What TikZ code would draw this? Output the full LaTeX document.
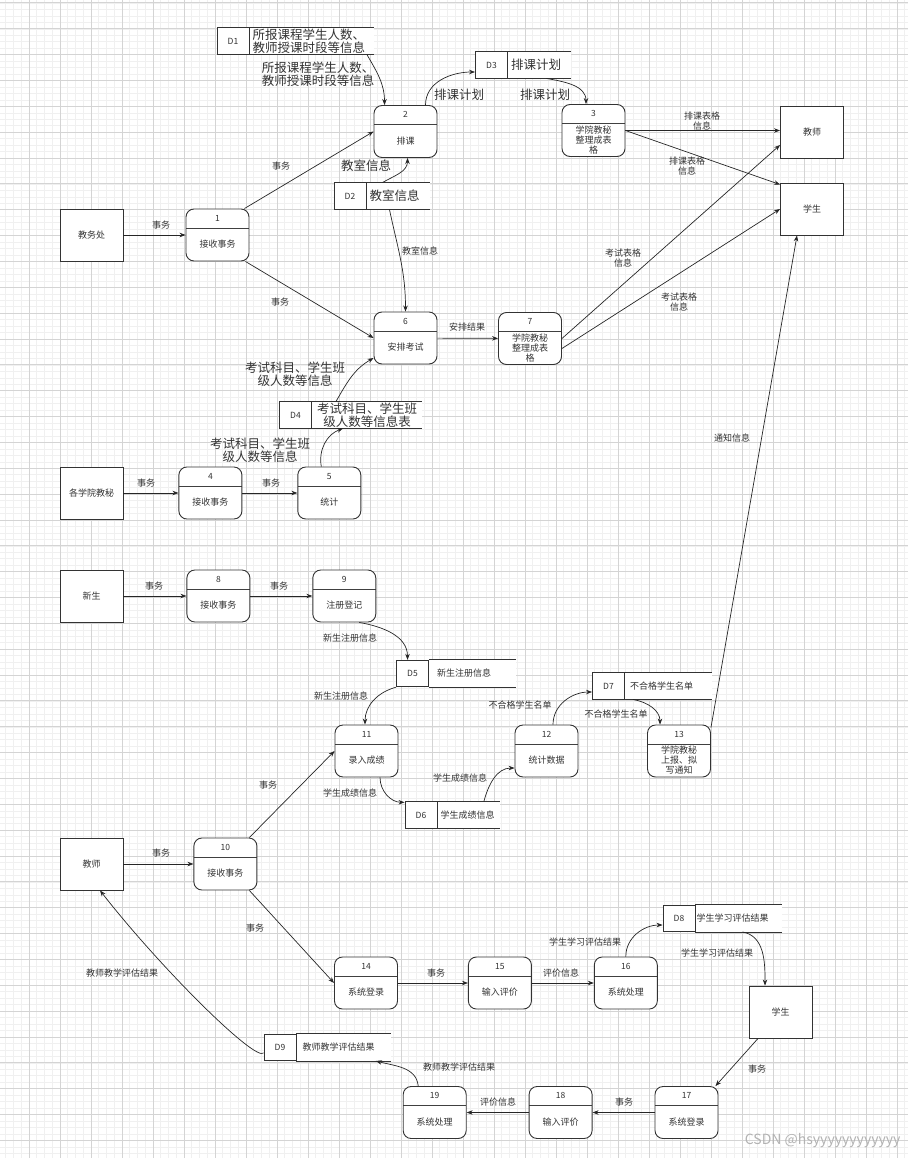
\documentclass[tikz,border=0pt]{standalone}
\usepackage{fontspec}
\setmainfont{Noto Sans CJK SC}
\usepackage{tikz}
\usetikzlibrary{arrows.meta,positioning}

\begin{document}
\begin{tikzpicture}[x=1pt, y=1pt,
    ent/.style={rectangle, draw=black!80, line width=0.9pt, fill=white,
                minimum width=63pt, minimum height=52pt,
                align=center, font=\fontsize{9}{10}\selectfont, text=black!80},
    proc/.style={rectangle, rounded corners=8pt,
                 draw=black!80, line width=0.9pt, fill=white,
                 minimum width=63pt, minimum height=52pt,
                 path picture={\draw[line width=0.8pt, black!75]
                   ([yshift=-19pt]path picture bounding box.north west) --
                   ([yshift=-19pt]path picture bounding box.north east);}},
    pnum/.style={anchor=center, yshift=-9.5pt, inner sep=0pt,
                 font=\fontsize{8.5}{10}\selectfont, text=black!80},
    ptxt/.style={yshift=-9.5pt, inner sep=0pt, align=center,
                 font=\fontsize{9}{10}\selectfont, text=black!80},
    dsid/.style={rectangle, draw=black!80, line width=0.9pt, fill=white,
                 minimum width=32pt, minimum height=26.5pt, inner sep=0pt,
                 font=\fontsize{8.5}{10}\selectfont, text=black!80},
    dsbody/.style={rectangle, fill=white, anchor=west,
                   minimum height=26.5pt, inner xsep=3pt, inner ysep=0pt,
                   align=left, font=\fontsize{9}{10}\selectfont, text=black!80},
    dsbig/.style={font=\fontsize{12.5}{13.5}\selectfont},
    dsedge/.style={draw=black!80, line width=0.9pt},
    lbl/.style={align=center, inner sep=1pt,
                font=\fontsize{9}{10}\selectfont, text=black!80},
    lblbig/.style={lbl, font=\fontsize{12.5}{13.5}\selectfont},
    arr/.style={-{Stealth[length=6pt,width=4.5pt]}, line width=0.7pt, draw=black!85},
    gridmajor/.style={draw=black!17, line width=1pt},
    gridminor/.style={draw=black!6, line width=0.6pt},
]

\useasboundingbox (0,0) rectangle (907,-1158);

%% ─── Background grid ───────────────────────────────────────────────────────
\begin{scope}[shift={(-2,-3)}]
  \draw[gridminor] (2,3) grid[xstep=7.75pt, ystep=6.4625pt] (912,-1158);
  \draw[gridmajor] (2,3) grid[xstep=31pt, ystep=25.85pt] (912,-1158);
\end{scope}

%% ─── External entities ─────────────────────────────────────────────────────
\node[ent] (e_jwc)  at (91.5,-235)   {教务处};
\node[ent] (e_xyjm) at (91.5,-493)   {各学院教秘};
\node[ent] (e_xs)   at (91.5,-596)   {新生};
\node[ent] (e_jsL)  at (91.5,-864)   {教师};
\node[ent] (e_jsR)  at (812,-132)    {教师};
\node[ent] (e_xsR)  at (812,-209)    {学生};
\node[ent] (e_xsB)  at (780.5,-1012) {学生};

%% ─── Processes: course and exam scheduling ────────────────────────────────
\node[proc, label={[pnum, name=p1n]north:1}, label={[ptxt, name=p1t]center:接收事务}]
    (p1) at (217.5,-235) {};
\node[proc, label={[pnum, name=p2n]north:2}, label={[ptxt, name=p2t]center:排课}]
    (p2) at (405.5,-131.5) {};
\node[proc, label={[pnum, name=p3n]north:3},
      label={[ptxt, name=p3t]center:学院教秘\\整理成表\\格}]
    (p3) at (593.5,-130.5) {};
\node[proc, label={[pnum, name=p6n]north:6}, label={[ptxt, name=p6t]center:安排考试}]
    (p6) at (405.5,-338) {};
\node[proc, label={[pnum, name=p7n]north:7},
      label={[ptxt, name=p7t]center:学院教秘\\整理成表\\格}]
    (p7) at (530,-338.5) {};
\node[proc, right=55pt of e_xyjm,
      label={[pnum, name=p4n]north:4}, label={[ptxt, name=p4t]center:接收事务}] (p4) {};
\node[proc, right=55pt of p4,
      label={[pnum, name=p5n]north:5}, label={[ptxt, name=p5t]center:统计}] (p5) {};

%% ─── Processes: registration and grades ───────────────────────────────────
\node[proc, right=63pt of e_xs,
      label={[pnum, name=p8n]north:8}, label={[ptxt, name=p8t]center:接收事务}] (p8) {};
\node[proc, right=62pt of p8,
      label={[pnum, name=p9n]north:9}, label={[ptxt, name=p9t]center:注册登记}] (p9) {};
\node[proc, label={[pnum, name=p11n]north:11}, label={[ptxt, name=p11t]center:录入成绩}]
    (p11) at (366.5,-751) {};
\node[proc, label={[pnum, name=p12n]north:12}, label={[ptxt, name=p12t]center:统计数据}]
    (p12) at (546.5,-751) {};
\node[proc, label={[pnum, name=p13n]north:13},
      label={[ptxt, name=p13t]center:学院教秘\\上报、拟\\写通知}]
    (p13) at (679,-751) {};

%% ─── Processes: evaluation ────────────────────────────────────────────────
\node[proc, right=70pt of e_jsL,
      label={[pnum, name=p10n]north:10}, label={[ptxt, name=p10t]center:接收事务}] (p10) {};
\node[proc, label={[pnum, name=p14n]north:14}, label={[ptxt, name=p14t]center:系统登录}]
    (p14) at (366,-983) {};
\node[proc, right=70pt of p14,
      label={[pnum, name=p15n]north:15}, label={[ptxt, name=p15t]center:输入评价}] (p15) {};
\node[proc, right=62pt of p15,
      label={[pnum, name=p16n]north:16}, label={[ptxt, name=p16t]center:系统处理}] (p16) {};
\node[proc, label={[pnum, name=p17n]north:17}, label={[ptxt, name=p17t]center:系统登录}]
    (p17) at (686.5,-1112.5) {};
\node[proc, left=62pt of p17,
      label={[pnum, name=p18n]north:18}, label={[ptxt, name=p18t]center:输入评价}] (p18) {};
\node[proc, left=62pt of p18,
      label={[pnum, name=p19n]north:19}, label={[ptxt, name=p19t]center:系统处理}] (p19) {};

%% ─── Data stores ───────────────────────────────────────────────────────────
\node[dsid] (d1) at (233,-41) {D1};
\node[dsbody, dsbig, text width=118pt] (d1t) at (d1.east) {所报课程学生人数、\\教师授课时段等信息};
\node[dsid] (d2) at (350,-196) {D2};
\node[dsbody, dsbig, text width=57pt] (d2t) at (d2.east) {教室信息};
\node[dsid] (d3) at (491.5,-65) {D3};
\node[dsbody, dsbig, text width=57pt] (d3t) at (d3.east) {排课计划};
\node[dsid] (d4) at (295.5,-415) {D4};
\node[dsbody, dsbig, text width=104pt, align=center] (d4t) at (d4.east) {考试科目、学生班\\级人数等信息表};
\node[dsid] (d5) at (412.5,-673.5) {D5};
\node[dsbody, text width=71pt, inner xsep=8pt] (d5t) at (d5.east) {新生注册信息};
\node[dsid] (d6) at (421,-815) {D6};
\node[dsbody, text width=56pt] (d6t) at (d6.east) {学生成绩信息};
\node[dsid] (d7) at (608.5,-686) {D7};
\node[dsbody, text width=77pt, inner xsep=5pt] (d7t) at (d7.east) {不合格学生名单};
\node[dsid] (d8) at (679,-918.5) {D8};
\node[dsbody, text width=84pt, inner xsep=1pt] (d8t) at (d8.east) {学生学习评估结果};
\node[dsid] (d9) at (280,-1047.5) {D9};
\node[dsbody, text width=82pt, inner xsep=6pt] (d9t) at (d9.east) {教师教学评估结果};

%% open right side: only top and bottom edges
\draw[dsedge] (d1.north east) -- (d1.north east -| d1t.east) (d1.south east) -- (d1.south east -| d1t.east);
\draw[dsedge] (d2.north east) -- (d2.north east -| d2t.east) (d2.south east) -- (d2.south east -| d2t.east);
\draw[dsedge] (d3.north east) -- (d3.north east -| d3t.east) (d3.south east) -- (d3.south east -| d3t.east);
\draw[dsedge] (d4.north east) -- (d4.north east -| d4t.east) (d4.south east) -- (d4.south east -| d4t.east);
\draw[dsedge] (d5.north east) -- (d5.north east -| d5t.east) (d5.south east) -- (d5.south east -| d5t.east);
\draw[dsedge] (d6.north east) -- (d6.north east -| d6t.east) (d6.south east) -- (d6.south east -| d6t.east);
\draw[dsedge] (d7.north east) -- (d7.north east -| d7t.east) (d7.south east) -- (d7.south east -| d7t.east);
\draw[dsedge] (d8.north east) -- (d8.north east -| d8t.east) (d8.south east) -- (d8.south east -| d8t.east);
\draw[dsedge] (d9.north east) -- (d9.north east -| d9t.east) (d9.south east) -- (d9.south east -| d9t.east);

%% ─── Flows: scheduling ─────────────────────────────────────────────────────
\draw[arr] (e_jwc) -- (p1);
\draw[arr] ([xshift=-5pt]p1.north east) -- (p2.west);
\draw[arr] ([xshift=-4pt]p1.south east) -- (p6.west);
\draw[arr] ([xshift=-7pt]d1t.south east) to[out=-60, in=90] ([xshift=-21pt]p2.north);
\draw[arr] ([xshift=20pt]p2.north) to[out=90, in=180] ([yshift=-7pt]d3.west);
\draw[arr] ([xshift=-25pt]d3t.south east) to[out=-10, in=90] ([xshift=-7.5pt]p3.north);
\draw[arr] ([xshift=16pt]d2t.north west) to[out=30, in=-90] ([xshift=2pt]p2.south);
\draw[arr] ([xshift=23pt]d2t.south west) to[out=-78, in=90] (p6.north);
\draw[arr] (p3.east) -- (p3.east -| e_jsR.west);
\draw[arr] (p3.east) -- ([yshift=-2pt]e_xsR.north west);
\draw[arr] (p7.east) -- ([yshift=-13pt]e_jsR.west);
\draw[arr] ([yshift=-10pt]p7.east) -- (e_xsR.west);
\draw[arr] (p6) -- (p7);
\draw[arr] (e_xyjm) -- (p4);
\draw[arr] (p4) -- (p5);
\draw[arr] ([xshift=-8pt]p5.north) to[out=100, in=200] ([xshift=31pt]d4t.south west);
\draw[arr] ([xshift=24pt]d4t.north west) to[out=60, in=210] ([yshift=-20pt]p6.west);
\draw[arr] ([yshift=-3pt]p13.north east) -- ([xshift=-15pt]e_xsR.south);

%% ─── Flows: registration and grades ───────────────────────────────────────
\draw[arr] (e_xs) -- (p8);
\draw[arr] (p8) -- (p9);
\draw[arr] ([xshift=15pt]p9.south) to[out=-10, in=90] ([xshift=-5pt]d5.north);
\draw[arr] (d5.south west) to[out=195, in=90] ([xshift=-1.5pt]p11.north);
\draw[arr] ([xshift=-8pt]p10.north east) -- (p11.west);
\draw[arr] ([xshift=13.5pt]p11.south) to[out=-90, in=180] ([yshift=-1pt]d6.north west);
\draw[arr] ([xshift=-16pt]d6t.north east) to[out=75, in=180] ([yshift=-17pt]p12.west);
\draw[arr] ([xshift=6.5pt]p12.north) to[out=90, in=180] ([yshift=-6pt]d7.west);
\draw[arr] ([xshift=8pt]d7t.south west) to[out=-10, in=90] ([xshift=-19pt]p13.north);

%% ─── Flows: evaluation ─────────────────────────────────────────────────────
\draw[arr] (e_jsL) -- (p10);
\draw[arr] ([xshift=-8pt]p10.south east) -- (p14.west);
\draw[arr] (p14) -- (p15);
\draw[arr] (p15) -- (p16);
\draw[arr] (p16.north) to[out=90, in=180] ([yshift=-6.5pt]d8.west);
\draw[arr] ([xshift=47pt]d8t.south west) to[out=-10, in=90] ([xshift=-15.5pt]e_xsB.north);
\draw[arr] ([xshift=-22.5pt]e_xsB.south) -- ([xshift=-3pt]p17.north east);
\draw[arr] (p17) -- (p18);
\draw[arr] (p18) -- (p19);
\draw[arr] ([xshift=-16.5pt]p19.north) to[out=95, in=-15] ([xshift=-15pt]d9t.south east);
\draw[arr] ([yshift=-5.5pt]d9.west) to[out=-135, in=-52, out distance=12pt, in distance=100pt]
    ([xshift=8.5pt]e_jsL.south);

%% ─── Flow labels ───────────────────────────────────────────────────────────
\node[lbl]    (l_jwc_1)  at (161,-225)  {事务};
\node[lbl]    (l_1_2)    at (281,-166)  {事务};
\node[lbl]    (l_1_6)    at (280,-302)  {事务};
\node[lblbig] (l_d1_2)   at (318,-74)   {所报课程学生人数、\\教师授课时段等信息};
\node[lblbig] (l_2_d3)   at (459,-95)   {排课计划};
\node[lblbig] (l_d3_3)   at (545,-95)   {排课计划};
\node[lblbig] (l_d2_2)   at (366,-166)  {教室信息};
\node[lbl]    (l_d2_6)   at (420,-251)  {教室信息};
\node[lbl]    (l_3_js)   at (702,-121)  {排课表格\\信息};
\node[lbl]    (l_3_xs)   at (687,-166)  {排课表格\\信息};
\node[lbl]    (l_7_js)   at (623,-258)  {考试表格\\信息};
\node[lbl]    (l_7_xs)   at (679,-302)  {考试表格\\信息};
\node[lbl]    (l_6_7)    at (467,-327)  {安排结果};
\node[lbl]    (l_xyjm_4) at (146,-483)  {事务};
\node[lbl]    (l_4_5)    at (271,-483)  {事务};
\node[lblbig] (l_5_d4)   at (260,-450)  {考试科目、学生班\\级人数等信息};
\node[lblbig] (l_d4_6)   at (295,-374)  {考试科目、学生班\\级人数等信息};
\node[lbl]    (l_13_xs)  at (732,-438)  {通知信息};
\node[lbl]    (l_xs_8)   at (154,-586)  {事务};
\node[lbl]    (l_8_9)    at (279,-586)  {事务};
\node[lbl]    (l_9_d5)   at (350,-638)  {新生注册信息};
\node[lbl]    (l_d5_11)  at (341,-696)  {新生注册信息};
\node[lbl]    (l_10_11)  at (268,-785)  {事务};
\node[lbl]    (l_11_d6)  at (350,-793)  {学生成绩信息};
\node[lbl]    (l_d6_12)  at (460,-778)  {学生成绩信息};
\node[lbl]    (l_12_d7)  at (520,-705)  {不合格学生名单};
\node[lbl]    (l_d7_13)  at (616,-714)  {不合格学生名单};
\node[lbl]    (l_js_10)  at (161,-853)  {事务};
\node[lbl]    (l_10_14)  at (255,-928)  {事务};
\node[lbl]    (l_14_15)  at (436,-973)  {事务};
\node[lbl]    (l_15_16)  at (561,-973)  {评价信息};
\node[lbl]    (l_16_d8)  at (585,-942)  {学生学习评估结果};
\node[lbl]    (l_d8_xs)  at (717,-953)  {学生学习评估结果};
\node[lbl]    (l_xs_17)  at (757,-1069) {事务};
\node[lbl]    (l_17_18)  at (624,-1102) {事务};
\node[lbl]    (l_18_19)  at (498,-1102) {评价信息};
\node[lbl]    (l_19_d9)  at (459,-1067) {教师教学评估结果};
\node[lbl]    (l_d9_js)  at (122,-973)  {教师教学评估结果};

%% watermark
\node[anchor=east, font=\fontsize{14}{16}\selectfont, text=black!30] (wm) at (904,-1141)
    {CSDN @hsyyyyyyyyyyyy};

\end{tikzpicture}
\end{document}
